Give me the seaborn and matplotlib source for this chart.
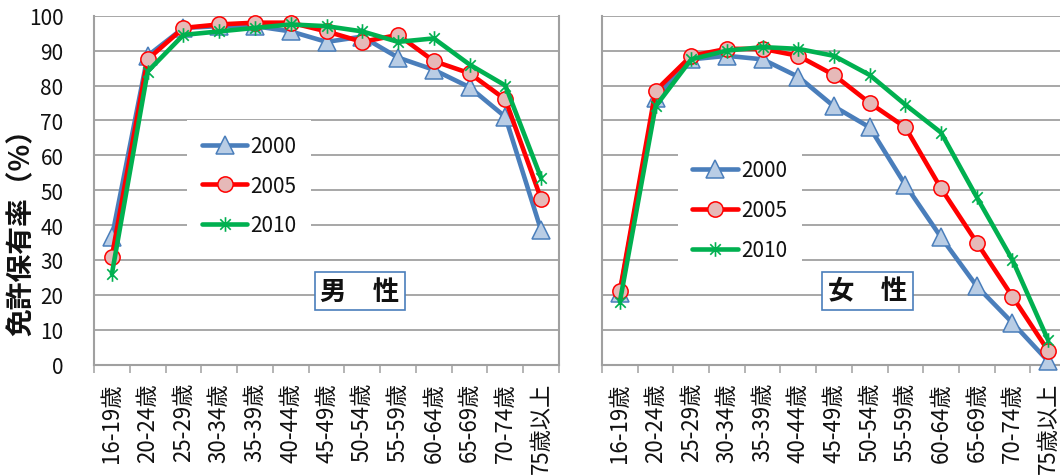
import numpy as np
import pandas as pd
import matplotlib
matplotlib.use("Agg")
import matplotlib.pyplot as plt
from matplotlib.path import Path
import seaborn as sns

# Age groups and licence-holding rates (%) by survey year
age_groups = ["16-19歳", "20-24歳", "25-29歳", "30-34歳", "35-39歳", "40-44歳",
              "45-49歳", "50-54歳", "55-59歳", "60-64歳", "65-69歳", "70-74歳",
              "75歳以上"]
years = ["2000", "2005", "2010"]

male_2000 = [36.5, 88.5, 96.5, 97.0, 97.0, 95.5, 92.5, 94.0, 88.0, 84.5, 79.5, 71.0, 38.5]
male_2005 = [31.0, 87.5, 96.5, 97.5, 98.0, 98.0, 95.5, 92.5, 94.5, 87.0, 83.5, 76.0, 47.5]
male_2010 = [26.0, 84.0, 94.5, 95.5, 96.5, 97.5, 97.0, 95.5, 92.5, 93.5, 86.0, 80.0, 53.5]

female_2000 = [20.5, 76.5, 87.5, 88.5, 87.5, 82.5, 74.0, 68.0, 51.5, 36.5, 22.5, 12.0, 1.0]
female_2005 = [21.0, 78.5, 88.5, 90.5, 90.5, 88.5, 83.0, 75.0, 68.0, 50.5, 35.0, 19.5, 4.0]
female_2010 = [18.0, 74.0, 87.5, 90.0, 91.0, 90.5, 88.5, 83.0, 74.5, 66.5, 48.0, 30.0, 7.0]

y_ticks = [0, 10, 20, 30, 40, 50, 60, 70, 80, 90, 100]

sns.set_theme(style="white")
plt.rcParams["font.family"] = ["Noto Sans CJK JP", "DejaVu Sans"]

# Asterisk marker: vertical bar plus two diagonals
star = Path([(0, -1), (0, 1), (-0.72, -0.72), (0.72, 0.72), (-0.72, 0.72), (0.72, -0.72)],
            [Path.MOVETO, Path.LINETO, Path.MOVETO, Path.LINETO, Path.MOVETO, Path.LINETO])

styles = {
    "2000": dict(color="#4a7ebb", marker="^", markersize=12.5,
                 markerfacecolor="#b9cde5", markeredgecolor="#4a7ebb", markeredgewidth=1.1),
    "2005": dict(color="#ff0000", marker="o", markersize=11,
                 markerfacecolor="#e6b9b8", markeredgecolor="#ff0000", markeredgewidth=1.1),
    "2010": dict(color="#00b050", marker=star, markersize=10.5,
                 markerfacecolor="none", markeredgecolor="#00b050", markeredgewidth=1.2),
}

W, H = 1060, 477
fig = plt.figure(figsize=(W / 100, H / 100), dpi=100)
fig.patch.set_facecolor("white")

ax_m = fig.add_axes([94 / W, 1 - 365.7 / H, 465 / W, 349 / H])
ax_f = fig.add_axes([602 / W, 1 - 365.7 / H, 464 / W, 349 / H])

grid_c = "#a0a0a0"
x = np.arange(len(age_groups))


def draw_panel(ax, series, title, legend_anchor, show_ylabels):
    df = pd.DataFrame({"age": np.tile(x, len(years)),
                       "rate": np.concatenate(series),
                       "year": np.repeat(years, len(x))})
    for yr in years:
        sub = df[df["year"] == yr]
        sns.lineplot(data=sub, x="age", y="rate", ax=ax, label=yr, lw=3.3,
                     clip_on=False, zorder=3, **styles[yr])
    ax.set_xlim(-0.5, len(x) - 0.5)
    ax.set_ylim(0, 100)
    ax.set_xlabel("")
    ax.set_ylabel("")

    # category boundaries carry the tick marks, centres carry the labels
    ax.set_xticks(np.arange(-0.5, len(x)), minor=False)
    ax.set_xticklabels([])
    ax.set_xticks(x, minor=True)
    ax.set_xticklabels(age_groups, minor=True, rotation=90, fontsize=16,
                       va="top", ha="center", color="#111111")
    ax.tick_params(axis="x", which="major", direction="out", length=6,
                   width=1.1, color=grid_c, bottom=True)
    ax.tick_params(axis="x", which="minor", length=0, pad=12.5)

    ax.set_yticks(y_ticks)
    if show_ylabels:
        ax.set_yticklabels([str(v) for v in y_ticks], fontsize=15, color="#111111")
    else:
        ax.set_yticklabels([])
    ax.tick_params(axis="y", length=0, pad=22)

    ax.yaxis.grid(True, color=grid_c, lw=1.3)
    ax.xaxis.grid(False)
    ax.set_axisbelow(True)
    for side in ["left", "right", "bottom"]:
        ax.spines[side].set_visible(True)
        ax.spines[side].set_color(grid_c)
        ax.spines[side].set_linewidth(1.5)
    ax.spines["top"].set_visible(False)

    leg = ax.legend(loc="upper left", bbox_to_anchor=legend_anchor, frameon=True,
                    fontsize=15, handlelength=2.2, handletextpad=0.15,
                    labelspacing=0.85, borderpad=0.7, borderaxespad=0,
                    fancybox=False, framealpha=1)
    leg.get_frame().set_facecolor("white")
    leg.get_frame().set_edgecolor("none")
    for t in leg.get_texts():
        t.set_color("#111111")

    ax.text(0.572, 0.211, title, transform=ax.transAxes, ha="center", va="center",
            fontsize=19, fontweight="bold", color="#111111", zorder=5,
            bbox=dict(boxstyle="square,pad=0.22", fc="white", ec="#4a7ebb", lw=1.2))


draw_panel(ax_m, [male_2000, male_2005, male_2010], "男　性", (0.2, 0.70), True)
draw_panel(ax_f, [female_2000, female_2005, female_2010], "女　性", (0.163, 0.63), False)

fig.text(22 / W, 1 - 225 / H, "免許保有率（%）", rotation=90, ha="center", va="center",
         fontsize=20, fontweight="bold", color="#111111")

fig.savefig("out.png", dpi=100, facecolor="white")
